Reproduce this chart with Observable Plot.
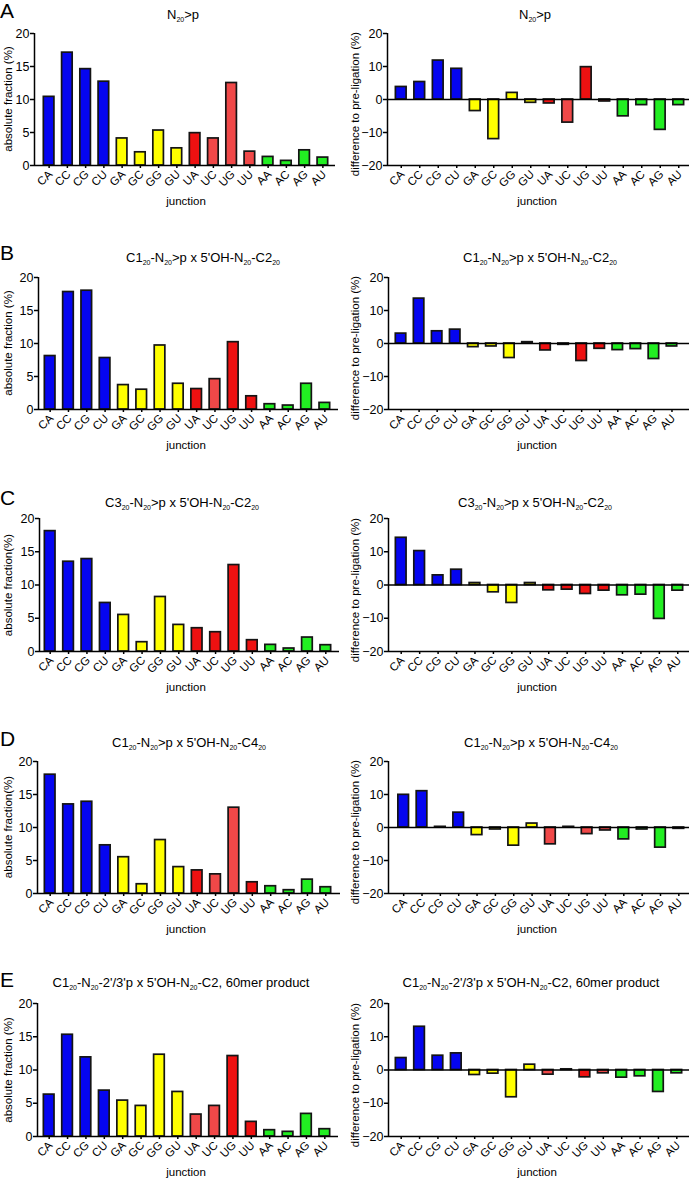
<!DOCTYPE html>
<html><head><meta charset="utf-8">
<script src="https://cdn.jsdelivr.net/npm/d3@7"></script>
<script src="https://cdn.jsdelivr.net/npm/@observablehq/plot@0.6"></script>
<style>
body{margin:0;background:#fff;font-family:Arial,"Liberation Sans",sans-serif;}
#root{position:relative;width:692px;height:1179px;overflow:hidden;background:#fff;}
.t{position:absolute;white-space:nowrap;transform:translate(-50%,-50%);color:#000;line-height:1;}
.title{font-size:13px;}
.title sub{font-size:7px;vertical-align:baseline;position:relative;top:3px;}
.lab{font-size:11.5px;}
.ylab{transform:translate(-50%,-50%) rotate(-90deg);}
.letter{position:absolute;font-size:21px;line-height:1;color:#000;}
#root svg{position:absolute;overflow:visible;}
#root svg [aria-label="y-axis tick label"]{font-size:12.5px;}
</style></head><body><div id="root"></div>
<script>
// ---- data ----
const junctions = ["CA","CC","CG","CU","GA","GC","GG","GU","UA","UC","UG","UU","AA","AC","AG","AU"];
const absA  = [10.4, 17.1, 14.6, 12.7, 4.1, 2.0, 5.3, 2.6, 4.9, 4.1, 12.5, 2.1, 1.3, 0.7, 2.3, 1.2];
const diffA = [3.8, 5.3, 11.8, 9.3, -3.5, -12.0, 2.0, -1.0, -1.2, -7.0, 9.8, -0.6, -5.1, -1.7, -9.2, -1.7];
const absB  = [8.1, 17.8, 18.0, 7.8, 3.7, 3.0, 9.7, 3.9, 3.1, 4.6, 10.2, 2.0, 0.8, 0.6, 3.9, 1.0];
const diffB = [3.0, 13.6, 3.7, 4.2, -1.1, -0.9, -4.4, 0.4, -2.1, -0.4, -5.3, -1.6, -2.0, -1.7, -4.7, -0.9];
const absC  = [18.1, 13.5, 13.9, 7.3, 5.5, 1.4, 8.2, 4.0, 3.5, 2.9, 13.0, 1.7, 1.0, 0.45, 2.1, 0.95];
const diffC = [14.2, 10.2, 2.9, 4.6, 0.6, -2.2, -5.4, 0.6, -1.6, -1.4, -2.7, -1.7, -3.1, -2.9, -10.2, -1.7];
const absD  = [18.0, 13.5, 13.9, 7.3, 5.5, 1.4, 8.1, 4.0, 3.5, 2.9, 13.0, 1.7, 1.1, 0.5, 2.1, 0.95];
const diffD = [9.9, 11.0, 0.2, 4.5, -2.3, -0.6, -5.5, 1.2, -5.1, 0.2, -2.0, -0.9, -3.6, -0.6, -6.1, -0.4];
const absE  = [6.3, 15.3, 11.9, 6.9, 5.4, 4.6, 12.3, 6.7, 3.3, 4.6, 12.1, 2.2, 0.95, 0.7, 3.4, 1.1];
const diffE = [3.6, 13.0, 4.3, 5.0, -1.5, -1.1, -8.2, 1.6, -1.4, 0.2, -2.2, -1.0, -2.3, -1.9, -6.6, -1.0];
const absTicks = [0, 5, 10, 15, 20];
const diffTicks = [-20, -10, 0, 10, 20];
const letters = ["A", "B", "C", "D", "E"];
const titles = [
  "N<sub>20</sub>&gt;p",
  "C1<sub>20</sub>-N<sub>20</sub>&gt;p x 5'OH-N<sub>20</sub>-C2<sub>20</sub>",
  "C3<sub>20</sub>-N<sub>20</sub>&gt;p x 5'OH-N<sub>20</sub>-C2<sub>20</sub>",
  "C1<sub>20</sub>-N<sub>20</sub>&gt;p x 5'OH-N<sub>20</sub>-C4<sub>20</sub>",
  "C1<sub>20</sub>-N<sub>20</sub>-2'/3'p x 5'OH-N<sub>20</sub>-C2, 60mer product"
];
const absLabels = ["absolute fraction (%)", "absolute fraction (%)", "absolute fraction(%)", "absolute fraction(%)", "absolute fraction (%)"];
const diffLabel = "difference to pre-ligation (%)";
const xLabel = "junction";

// ---- styles / layout ----
const baseColor = {C: "#0505f0", G: "#ffff00", U: "#ee1111", A: "#22ee22"};
const lightRed = "#f04848";
const lightSets = [
  [["UC","UG","UU"], ["UC"]],
  [["UC"], []],
  [[], []],
  [["UC","UG"], ["UA","UG","UU"]],
  [["UA","UC"], ["UA","UU"]]
];
const L = {
  top: [33, 277, 518, 761, 1003],
  bottom: [165, 409, 651, 893, 1136],
  leftAxis: [34, 38, 39, 37, 37],
  leftEnd: [335, 338, 339, 340, 338],
  rightAxis: [387, 388, 388, 388, 388],
  rightEnd: [689, 689, 689, 689, 689],
  leftInset: [[5.5,3.5],[2.5,4.5],[1.5,4.5],[3.5,5.5],[2.5,4.5]],
  rightInset: [[4.5,1.5],[3.5,8.5],[3.5,2.5],[6,1.5],[3.5,3.5]],
  titleX: [[183,535],[203,540],[182,535],[189,541],[181,531]],
  titleY: [14, 257, 502, 742, 982],
  letterTop: [0, 242, 487, 728, 969]
};
const absRows = [absA, absB, absC, absD, absE];
const diffRows = [diffA, diffB, diffC, diffD, diffE];
const barHalf = 0.29;

const root = document.getElementById("root");
function addText(html, cls, x, y) {
  const d = document.createElement("div");
  d.className = cls;
  d.innerHTML = html;
  d.style.left = x + "px";
  d.style.top = y + "px";
  root.appendChild(d);
}

function panel(values, isDiff, r, panelLeft, axisX, endX, inset, light) {
  const mT = 10, mB = 34;
  const mL = axisX - panelLeft, mR = panelLeft + 346 - endX;
  const h = L.bottom[r] - L.top[r] + mT + mB;
  const W = endX - axisX;
  const step = (W - inset[0] - inset[1]) / junctions.length;
  const xmin = -0.5 - inset[0] / step;
  const xmax = junctions.length - 0.5 + inset[1] / step;
  const yDomain = isDiff ? [-20, 20] : [0, 20];
  const table = junctions.map((j, i) => ({
    i, j, v: values[i],
    c: light.includes(j) ? lightRed : baseColor[j[0]]
  }));
  const chart = Plot.plot({
    width: 346, height: h,
    marginLeft: mL, marginRight: mR, marginTop: mT, marginBottom: mB,
    style: {fontFamily: "Arial, 'Liberation Sans', sans-serif", fontSize: "12.5px", background: "transparent", color: "#000", overflow: "visible"},
    x: {domain: [xmin, xmax], label: null},
    y: {domain: yDomain, label: null},
    color: {type: "identity"},
    marks: [
      Plot.rect(table, {x1: d => d.i - barHalf, x2: d => d.i + barHalf, y1: 0, y2: "v", fill: "c", stroke: "#141414", strokeWidth: 1.7}),
      isDiff ? Plot.ruleY([0], {stroke: "#000", strokeWidth: 1.5}) : null,
      Plot.ruleY([yDomain[0]], {stroke: "#000", strokeWidth: 1.5}),
      Plot.ruleX([xmin], {stroke: "#000", strokeWidth: 1.5}),
      Plot.axisY({ticks: isDiff ? diffTicks : absTicks, tickSize: 4, tickPadding: 1, strokeWidth: 1.5, label: null, fontSize: 12.5}),
      Plot.axisX({ticks: d3.range(junctions.length), tickSize: 3, tickFormat: () => "", strokeWidth: 1.5, label: null}),
      Plot.text(table, {x: "i", text: "j", frameAnchor: "bottom", rotate: -45, textAnchor: "end", dx: 4, dy: 9.5, fontSize: 11.5, fill: "#000"})
    ]
  });
  chart.style.left = panelLeft + "px";
  chart.style.top = (L.top[r] - mT) + "px";
  root.appendChild(chart);
}

for (let r = 0; r < 5; r++) {
  panel(absRows[r], false, r, 0, L.leftAxis[r], L.leftEnd[r], L.leftInset[r], lightSets[r][0]);
  panel(diffRows[r], true, r, 346, L.rightAxis[r], L.rightEnd[r], L.rightInset[r], lightSets[r][1]);
  const yc = (L.top[r] + L.bottom[r]) / 2;
  addText(titles[r], "t title", L.titleX[r][0], L.titleY[r]);
  addText(titles[r], "t title", L.titleX[r][1], L.titleY[r]);
  addText(absLabels[r], "t lab ylab", 9, yc);
  addText(diffLabel, "t lab ylab", 356, yc + 5);
  addText(xLabel, "t lab", 186, L.bottom[r] + 37);
  addText(xLabel, "t lab", 537, L.bottom[r] + 37);
  const lt = document.createElement("div");
  lt.className = "letter";
  lt.textContent = letters[r];
  lt.style.left = "0px";
  lt.style.top = L.letterTop[r] + "px";
  root.appendChild(lt);
}
</script></body></html>
